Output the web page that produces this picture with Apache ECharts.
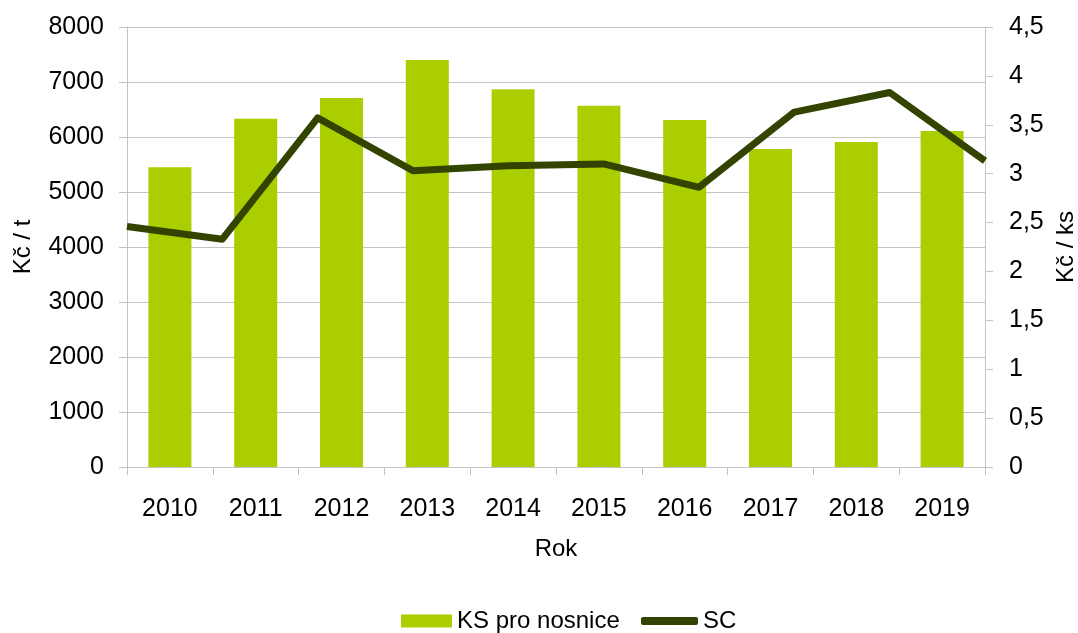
<!DOCTYPE html>
<html>
<head>
<meta charset="utf-8">
<script src="https://cdn.jsdelivr.net/npm/echarts@6/dist/echarts.min.js"></script>
<style>
  html, body { margin: 0; padding: 0; background: #fff; }
  #chart { width: 1078px; height: 633px; }
</style>
</head>
<body>
<div id="chart"></div>
<script>
// data
var years = ['2010', '2011', '2012', '2013', '2014', '2015', '2016', '2017', '2018', '2019'];
var ksValues = [5450, 6330, 6710, 7400, 6870, 6570, 6310, 5780, 5910, 6110];   // Kč / t
var scValues = [2.46, 2.33, 3.57, 3.03, 3.08, 3.10, 2.86, 3.63, 3.83, 3.13];   // Kč / ks

var FONT = '"Liberation Sans", Arial, sans-serif';
var GRID_COLOR = '#c4c4c4';

var chart = echarts.init(document.getElementById('chart'));

var option = {
    animation: false,
    backgroundColor: '#fff',
    textStyle: { fontFamily: FONT, color: '#000' },
    grid: {
        left: 127, right: 93, top: 27, bottom: 166,
        containLabel: false,
        outerBoundsMode: 'none'
    },
    legend: [
        {
            data: ['KS pro nosnice'],
            left: 396, top: 604,
            icon: 'rect',
            itemWidth: 51, itemHeight: 13,
            textStyle: { fontFamily: FONT, fontSize: 24, color: '#000' }
        },
        {
            data: ['SC'],
            left: 636, top: 604,
            icon: 'roundRect',
            itemWidth: 57, itemHeight: 8,
            textStyle: { fontFamily: FONT, fontSize: 24, color: '#000' }
        }
    ],
    xAxis: [
        {
            type: 'category',
            data: years,
            boundaryGap: true,
            position: 'bottom',
            offset: 9,
            name: 'Rok',
            nameLocation: 'middle',
            nameGap: 61,
            nameTextStyle: { fontFamily: FONT, fontSize: 24, color: '#000' },
            axisLine: { show: true, lineStyle: { color: GRID_COLOR, width: 1 } },
            axisTick: { show: true, length: 8, alignWithLabel: false, lineStyle: { color: GRID_COLOR } },
            axisLabel: { margin: 21, fontFamily: FONT, fontSize: 25, color: '#000' },
            splitLine: { show: false }
        },
        {
            // hidden axis for the line so it runs edge to edge
            type: 'category',
            data: years,
            boundaryGap: false,
            position: 'bottom',
            show: false
        }
    ],
    yAxis: [
        {
            type: 'value',
            min: 0, max: 8000, interval: 1000,
            position: 'left',
            name: 'Kč / t',
            nameLocation: 'middle',
            nameGap: 92,
            nameTextStyle: { fontFamily: FONT, fontSize: 24, color: '#000' },
            axisLine: { show: true, lineStyle: { color: GRID_COLOR, width: 1 } },
            axisTick: { show: true, length: 8, lineStyle: { color: GRID_COLOR } },
            axisLabel: {
                margin: 23, fontFamily: FONT, fontSize: 25, color: '#000',
                formatter: function (v) { return String(v); }
            },
            splitLine: { show: true, lineStyle: { color: GRID_COLOR, width: 1 } }
        },
        {
            type: 'value',
            min: 0, max: 4.5, interval: 0.5,
            position: 'right',
            name: 'Kč / ks',
            nameLocation: 'middle',
            nameGap: 66,
            nameTextStyle: { fontFamily: FONT, fontSize: 24, color: '#000' },
            axisLine: { show: true, lineStyle: { color: GRID_COLOR, width: 1 } },
            axisTick: { show: true, length: 8, lineStyle: { color: GRID_COLOR } },
            axisLabel: {
                margin: 24, fontFamily: FONT, fontSize: 25, color: '#000',
                formatter: function (v) { return String(v).replace('.', ','); }
            },
            splitLine: { show: false }
        }
    ],
    series: [
        {
            name: 'KS pro nosnice',
            type: 'bar',
            xAxisIndex: 0,
            yAxisIndex: 0,
            barWidth: 43,
            itemStyle: { color: '#abce00' },
            data: ksValues
        },
        {
            name: 'SC',
            type: 'line',
            xAxisIndex: 1,
            yAxisIndex: 1,
            symbol: 'none',
            color: '#334400',
            lineStyle: { color: '#334400', width: 7, join: 'round' },
            itemStyle: { color: '#334400' },
            data: scValues
        }
    ]
};

chart.setOption(option);
</script>
</body>
</html>
